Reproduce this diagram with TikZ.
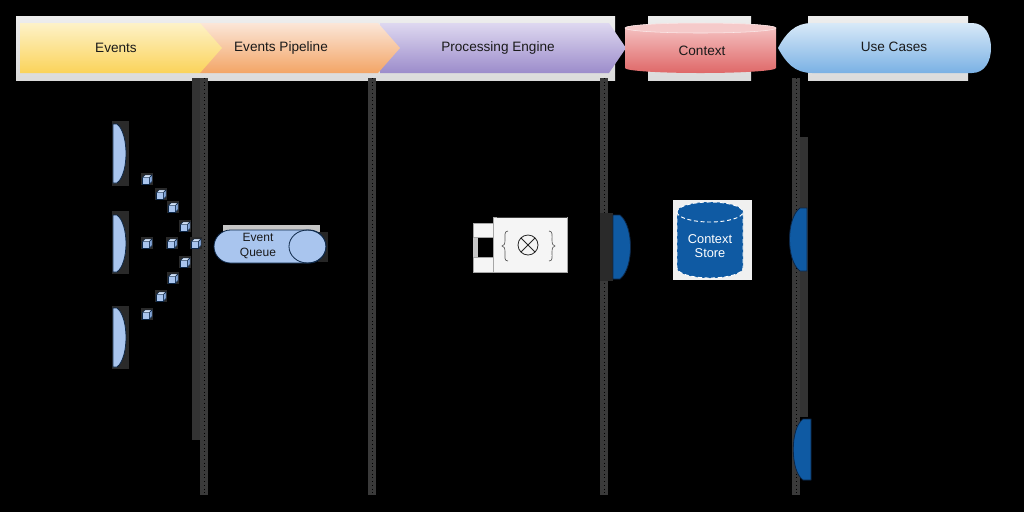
\documentclass[tikz,border=0pt]{standalone}
\usepackage{fontspec}
\setmainfont{Liberation Sans}
\definecolor{evA}{HTML}{FDF2C8}
\definecolor{evB}{HTML}{FBD35A}
\definecolor{ppA}{HTML}{FBE6D8}
\definecolor{ppB}{HTML}{F3A566}
\definecolor{peA}{HTML}{DED8F0}
\definecolor{peB}{HTML}{9C8CCB}
\definecolor{cxA}{HTML}{F6C8C8}
\definecolor{cxB}{HTML}{DF6868}
\definecolor{cxT}{HTML}{F5CACA}
\definecolor{ucA}{HTML}{D8E9F8}
\definecolor{ucB}{HTML}{7AB1E4}
\definecolor{evblue}{HTML}{A9C5EE}
\definecolor{cubetop}{HTML}{D2E2F8}
\definecolor{cubeside}{HTML}{86A8DA}
\definecolor{deepblue}{HTML}{0F5AA3}
\definecolor{navy}{HTML}{0D2747}
\definecolor{lanegray}{HTML}{3A3A3A}
\definecolor{lanegrayB}{HTML}{333333}
\definecolor{halo}{HTML}{2A2A2A}
\definecolor{hdrtext}{HTML}{1A1A1A}
\begin{document}
\begin{tikzpicture}[x=0.75pt,y=-0.75pt,
  hdrlabel/.style={font=\fontsize{10.2}{12}\selectfont, text=hdrtext, inner sep=0pt},
  lanebar/.style={line width=6pt, draw=lanegray},
  lanebarB/.style={line width=6pt, draw=lanegrayB},
  lanedots/.style={draw=black, line width=0.5pt, dash pattern=on 0.6pt off 2.2pt},
  evshape/.style={fill=evblue, draw=navy, line width=0.6pt},
  deepshape/.style={fill=deepblue, draw=navy, line width=0.6pt},
  bandbg/.style={top color=gray!14, bottom color=gray!28},
  evcube/.pic={
    \fill[halo] (-6,-6) rectangle (6,6);
    \filldraw[fill=evblue, draw=navy, line width=0.35pt] (-4.5,-1.5) rectangle (2.5,5);
    \filldraw[fill=cubetop, draw=navy, line width=0.35pt] (-4.5,-1.5) -- (-2,-4) -- (5,-4) -- (2.5,-1.5) -- cycle;
    \filldraw[fill=cubeside, draw=navy, line width=0.35pt] (2.5,-1.5) -- (5,-4) -- (5,2.5) -- (2.5,5) -- cycle;
  }]
\fill[black] (0,0) rectangle (1024,512);
\useasboundingbox (0,0) rectangle (1024,512);

% ---------- header ----------
\shade[bandbg] (16,16) rectangle (615,80);
\shade[bandbg] (648,16) rectangle (751,80);
\shade[bandbg] (808,16) rectangle (968,80);

\shade[top color=peA, bottom color=peB] (380,23) -- (609,23) -- (626,48) -- (609,73) -- (380,73) -- cycle;
\shade[top color=ppA, bottom color=ppB] (200,23) -- (378,23) -- (400,48) -- (378,73) -- (200,73) -- cycle;
\shade[top color=evA, bottom color=evB] (20,23) -- (200,23) -- (222,48) -- (200,73) -- (20,73) -- cycle;

% Context cylinder
\shade[top color=cxA, bottom color=cxB]
  (625,28) -- (625,68) .. controls (625,70.8) and (658.8,73) .. (700.5,73)
  .. controls (742.2,73) and (776,70.8) .. (776,68) -- (776,28)
  .. controls (776,25.2) and (742.2,23) .. (700.5,23)
  .. controls (658.8,23) and (625,25.2) .. (625,28) -- cycle;
\filldraw[fill=cxT, draw=white!60!cxA, line width=0.4pt] (700.5,28) ellipse [x radius=75.5, y radius=5];

% Use Cases display shape
\shade[top color=ucA, bottom color=ucB]
  (778,48) .. controls (786,33) and (795,23) .. (812,23) -- (972,23)
  .. controls (985,23) and (991,35) .. (991,48)
  .. controls (991,61) and (985,73) .. (972,73) -- (812,73)
  .. controls (795,73) and (786,63) .. (778,48) -- cycle;

\node[hdrlabel] (hEvents) at (116,48) {Events};
\node[hdrlabel] (hPipe) at (281,48) {Events Pipeline};
\node[hdrlabel] (hProc) at (498,48) {Processing Engine};
\node[hdrlabel] (hCtx) at (702,51) {Context};
\node[hdrlabel] (hUse) at (894,47) {Use Cases};

% ---------- lanes ----------
\coordinate (l1t) at (204,78);  \coordinate (l1b) at (204,495);
\coordinate (l2t) at (372,78);  \coordinate (l2b) at (372,495);
\coordinate (l3t) at (604,78);  \coordinate (l3b) at (604,495);
\coordinate (l4t) at (796,78);  \coordinate (l4b) at (796,495);
\coordinate (s1t) at (196,78);  \coordinate (s1b) at (196,440);
\coordinate (s4t) at (804,137); \coordinate (s4b) at (804,417);
\draw[lanebarB] (s1t) -- (s1b);
\draw[lanebarB] (s4t) -- (s4b);
\draw[lanebar] (l1t) -- (l1b);
\draw[lanebar] (l2t) -- (l2b);
\draw[lanebar] (l3t) -- (l3b);
\draw[lanebar] (l4t) -- (l4b);
\draw[lanedots] (l1t) -- (l1b);
\draw[lanedots] (l2t) -- (l2b);
\draw[lanedots] (l3t) -- (l3b);
\draw[lanedots] (l4t) -- (l4b);

% ---------- events sources ----------
\fill[halo] (112,121) rectangle (129,186);
\fill[halo] (112,211) rectangle (129,274);
\fill[halo] (112,306) rectangle (129,369);
\filldraw[evshape] (113,124) -- (117,124) .. controls (129,133) and (129,174) .. (117,183) -- (113,183) -- cycle;
\filldraw[evshape] (113,215) -- (117,215) .. controls (129,224) and (129,263) .. (117,272) -- (113,272) -- cycle;
\filldraw[evshape] (113,308) -- (117,308) .. controls (129,317) and (129,358) .. (117,367) -- (113,367) -- cycle;

\foreach \cx/\cy in {147/179,161/194,173/207,185/226,147/243,172/243,196/243,185/262,173/278,161/296,147/314}
  \pic at (\cx,\cy) {evcube};

% ---------- event queue ----------
\fill[gray!45] (223,225) rectangle (320,232);
\fill[gray!30!black] (318,232) rectangle (328,262);
\filldraw[evshape] (230.5,230) -- (309.5,230) .. controls (318.6,230) and (326,237.4) .. (326,246.5)
  .. controls (326,255.6) and (318.6,263) .. (309.5,263) -- (230.5,263)
  .. controls (221.4,263) and (214,255.6) .. (214,246.5)
  .. controls (214,237.4) and (221.4,230) .. (230.5,230) -- cycle;
\draw[navy, line width=0.6pt] (307.5,246.5) ellipse [x radius=18.5, y radius=16.5];
\node[font=\fontsize{9}{11.2}\selectfont, align=center, inner sep=0pt, text=hdrtext] (queue) at (258,246) {Event\\Queue};

% ---------- processing component ----------
\fill[gray!45] (473,223) rectangle (478,272);
\filldraw[fill=gray!8, draw=gray!70, line width=0.5pt] (493,217) rectangle (567,272);
\draw[black!75, line width=0.7pt] (497,217) -- (567,217);
\filldraw[fill=gray!8, draw=gray!70, line width=0.5pt] (473,223) rectangle (493,237);
\filldraw[fill=gray!8, draw=gray!70, line width=0.5pt] (473,257) rectangle (493,272);
\draw[gray!70!black, line width=0.5pt]
  (508,231) .. controls (504,231) and (505,236) .. (505,240)
  .. controls (505,244) and (504,246) .. (502,246)
  .. controls (504,246) and (505,248) .. (505,252)
  .. controls (505,257) and (504,261) .. (508,261);
\draw[gray!70!black, line width=0.5pt]
  (549,231) .. controls (553,231) and (552,236) .. (552,240)
  .. controls (552,244) and (553,246) .. (555,246)
  .. controls (553,246) and (552,248) .. (552,252)
  .. controls (552,257) and (553,261) .. (549,261);
\draw[black!85, line width=0.6pt] (528,245) circle [radius=10];
\draw[black!85, line width=0.6pt] (521,238) -- (535,252) (535,238) -- (521,252);

% ---------- context ----------
\fill[halo] (600,213) rectangle (613,281);
\filldraw[deepshape] (613,215) -- (620,215) .. controls (634,226) and (634,268) .. (620,279) -- (613,279) -- cycle;

\fill[gray!12] (673,200) rectangle (752,280);
\filldraw[fill=deepblue, draw=white, line width=0.7pt, dash pattern=on 3pt off 2pt]
  (677,212) -- (677,268) .. controls (677,273.5) and (691.8,278) .. (710,278)
  .. controls (728.2,278) and (743,273.5) .. (743,268) -- (743,212)
  .. controls (743,206.5) and (728.2,202) .. (710,202)
  .. controls (691.8,202) and (677,206.5) .. (677,212) -- cycle;
\draw[white, line width=0.7pt, dash pattern=on 3pt off 2pt]
  (677,212) .. controls (677,217.5) and (691.8,222) .. (710,222)
  .. controls (728.2,222) and (743,217.5) .. (743,212);
\node[font=\fontsize{9.6}{10.6}\selectfont, align=center, inner sep=0pt, text=white] (store) at (710,246) {Context\\Store};

% ---------- use cases ----------
\filldraw[deepshape] (807,208) -- (800,208) .. controls (786,218) and (786,261) .. (800,271) -- (807,271) -- cycle;
\filldraw[deepshape] (811,419) -- (803,419) .. controls (790,428) and (790,471) .. (803,480) -- (811,480) -- cycle;
\end{tikzpicture}
\end{document}
